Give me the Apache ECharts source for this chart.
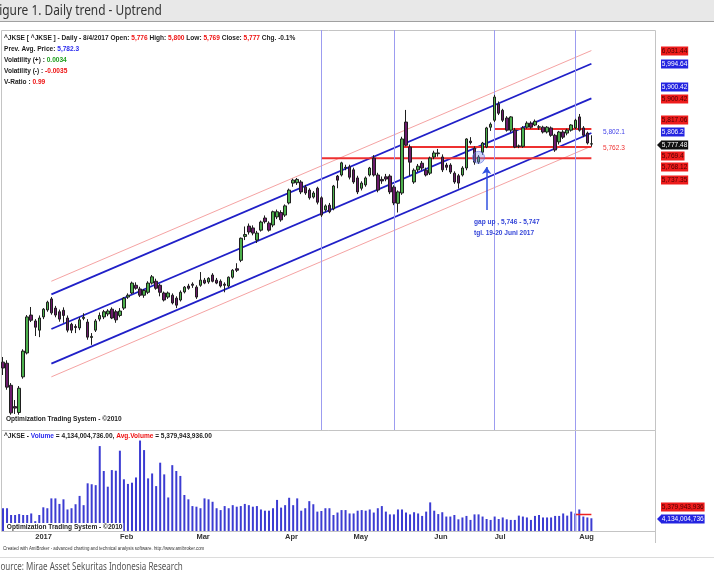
<!DOCTYPE html>
<html>
<head>
<meta charset="utf-8">
<script src="https://cdn.jsdelivr.net/npm/echarts@6/dist/echarts.min.js"></script>
<style>
  html, body { margin: 0; padding: 0; background: #fff; }
  #main { width: 714px; height: 581px; }
</style>
</head>
<body>
<div id="main"></div>
<script>
// trading days per month (IDX calendar)
const dec16 = [20, 21, 22, 23, 27, 28, 29, 30];
const jan17 = [3, 4, 5, 6, 9, 10, 11, 12, 13, 16, 17, 18, 19, 20, 23, 24, 25, 26, 27, 30, 31];
const feb17 = [1, 2, 3, 6, 7, 8, 9, 10, 13, 14, 16, 17, 20, 21, 22, 23, 24, 27, 28];
const mar17 = [1, 2, 3, 6, 7, 8, 9, 10, 13, 14, 15, 16, 17, 20, 21, 22, 23, 24, 27, 29, 30, 31];
const apr17 = [3, 4, 5, 6, 7, 10, 11, 12, 13, 17, 18, 20, 21, 25, 26, 27, 28];
const may17 = [2, 3, 4, 5, 8, 9, 10, 12, 15, 16, 17, 18, 19, 22, 23, 24, 26, 29, 30, 31];
const jun17 = [2, 5, 6, 7, 8, 9, 12, 13, 14, 15, 16, 19, 20, 21, 22];
const jul17 = [3, 4, 5, 6, 7, 10, 11, 12, 13, 14, 17, 18, 19, 20, 21, 24, 25, 26, 27, 28, 31];
const aug17 = [1, 2, 3, 4];

const monthLabels = { '01': '2017', '02': 'Feb', '03': 'Mar', '04': 'Apr', '05': 'May', '06': 'Jun', '07': 'Jul', '08': 'Aug' };

// ^JKSE daily prices
const openP = [
  5183, 5180, 5120, 5062, 5046, 5143, 5208, 5311, 5295, 5270,
  5306, 5325, 5355, 5330, 5320, 5324, 5303, 5286, 5280, 5276,
  5302, 5292, 5250, 5270, 5300, 5306, 5314, 5327, 5320, 5310,
  5330, 5360, 5371, 5392, 5382, 5365, 5373, 5398, 5403, 5392,
  5371, 5360, 5365, 5357, 5352, 5374, 5390, 5395, 5387, 5392,
  5406, 5401, 5420, 5406, 5403, 5395, 5390, 5414, 5437, 5460,
  5525, 5553, 5548, 5515, 5542, 5575, 5561, 5556, 5578, 5590,
  5583, 5616, 5670, 5671, 5673, 5659, 5651, 5632, 5656, 5630,
  5597, 5610, 5600, 5689, 5692, 5711, 5714, 5706, 5684, 5656,
  5665, 5692, 5738, 5692, 5680, 5687, 5689, 5659, 5615, 5643,
  5836, 5768, 5673, 5706, 5724, 5705, 5697, 5741, 5750, 5741,
  5719, 5719, 5697, 5690, 5692, 5711, 5784, 5765, 5727, 5754,
  5768, 5822, 5841, 5885, 5868, 5847, 5814, 5814, 5770, 5770,
  5822, 5833, 5828, 5822, 5822, 5809, 5820, 5800, 5782, 5809,
  5806, 5814, 5820, 5850, 5820, 5806, 5776
];
const highP = [
  5197, 5188, 5126, 5080, 5118, 5218, 5311, 5333, 5300, 5310,
  5330, 5350, 5360, 5336, 5326, 5332, 5310, 5290, 5286, 5305,
  5316, 5300, 5262, 5300, 5318, 5325, 5327, 5332, 5325, 5330,
  5360, 5370, 5402, 5400, 5388, 5382, 5403, 5420, 5410, 5396,
  5375, 5375, 5370, 5362, 5378, 5390, 5396, 5400, 5392, 5428,
  5412, 5414, 5425, 5412, 5408, 5400, 5416, 5436, 5452, 5522,
  5552, 5560, 5555, 5540, 5568, 5582, 5566, 5595, 5598, 5596,
  5612, 5655, 5682, 5684, 5678, 5665, 5656, 5648, 5660, 5634,
  5612, 5616, 5665, 5692, 5728, 5720, 5720, 5712, 5690, 5675,
  5688, 5714, 5746, 5698, 5688, 5695, 5694, 5664, 5650, 5796,
  5869, 5775, 5710, 5722, 5730, 5712, 5742, 5758, 5763, 5748,
  5725, 5724, 5702, 5695, 5716, 5792, 5795, 5770, 5746, 5782,
  5823, 5835, 5910, 5892, 5872, 5852, 5852, 5820, 5775, 5825,
  5838, 5838, 5843, 5828, 5826, 5825, 5824, 5804, 5812, 5814,
  5818, 5830, 5845, 5858, 5825, 5810, 5800
];
const lowP = [
  5148, 5108, 5040, 5042, 5040, 5138, 5204, 5292, 5254, 5251,
  5300, 5320, 5312, 5305, 5293, 5290, 5264, 5262, 5262, 5270,
  5297, 5244, 5230, 5265, 5294, 5300, 5308, 5300, 5290, 5305,
  5325, 5355, 5368, 5380, 5360, 5358, 5368, 5394, 5380, 5362,
  5348, 5355, 5340, 5330, 5348, 5370, 5380, 5385, 5355, 5388,
  5395, 5396, 5400, 5395, 5386, 5373, 5386, 5410, 5428, 5455,
  5515, 5530, 5528, 5507, 5538, 5560, 5538, 5550, 5572, 5565,
  5578, 5612, 5660, 5665, 5640, 5638, 5625, 5628, 5612, 5578,
  5592, 5588, 5596, 5656, 5688, 5705, 5680, 5668, 5640, 5650,
  5660, 5688, 5688, 5645, 5668, 5675, 5640, 5610, 5590, 5638,
  5770, 5690, 5668, 5700, 5705, 5688, 5692, 5735, 5742, 5700,
  5705, 5695, 5668, 5655, 5688, 5705, 5775, 5720, 5722, 5747,
  5765, 5812, 5836, 5855, 5836, 5810, 5808, 5765, 5765, 5766,
  5818, 5818, 5825, 5815, 5805, 5805, 5796, 5755, 5775, 5790,
  5800, 5810, 5816, 5810, 5795, 5775, 5769
];
const closeP = [
  5167, 5115, 5045, 5058, 5112, 5213, 5306, 5297, 5278, 5303,
  5327, 5346, 5317, 5311, 5300, 5310, 5270, 5270, 5277, 5298,
  5305, 5251, 5253, 5295, 5310, 5320, 5322, 5303, 5298, 5322,
  5357, 5365, 5398, 5384, 5365, 5378, 5398, 5415, 5384, 5373,
  5352, 5371, 5344, 5338, 5373, 5387, 5384, 5392, 5360, 5406,
  5398, 5411, 5403, 5398, 5390, 5392, 5414, 5433, 5433, 5520,
  5530, 5537, 5534, 5534, 5564, 5565, 5542, 5592, 5592, 5570,
  5608, 5651, 5678, 5680, 5646, 5643, 5630, 5643, 5618, 5583,
  5608, 5592, 5662, 5678, 5725, 5713, 5686, 5673, 5646, 5670,
  5684, 5711, 5692, 5651, 5676, 5681, 5646, 5616, 5646, 5790,
  5773, 5727, 5705, 5716, 5711, 5692, 5738, 5752, 5752, 5706,
  5713, 5700, 5673, 5670, 5711, 5790, 5780, 5727, 5741, 5779,
  5820, 5830, 5904, 5860, 5841, 5814, 5850, 5768, 5771, 5820,
  5833, 5822, 5838, 5823, 5809, 5822, 5800, 5760, 5809, 5795,
  5814, 5828, 5841, 5814, 5800, 5779, 5777
];
// volume, billions of shares
const volumeB = [
  7.4, 7.4, 5.2, 5.2, 5.5, 5.2, 5.2, 5.7, 3.2, 5.2,
  7.7, 7.4, 10.6, 10.6, 8.8, 10.3, 7.0, 7.4, 8.7, 11.4,
  8.4, 15.5, 15.2, 14.9, 27.6, 19.5, 14.4, 19.8, 19.6, 26.1,
  16.8, 15.3, 15.7, 17.4, 29.4, 26.3, 17.1, 18.7, 14.6, 22.2,
  18.4, 10.9, 21.4, 19.5, 17.9, 11.7, 10.3, 8.1, 7.9, 7.4,
  10.6, 10.3, 9.5, 7.4, 6.8, 8.1, 7.4, 8.4, 7.9, 8.1,
  8.8, 8.4, 7.9, 8.1, 7.0, 6.6, 6.6, 7.4, 10.1, 7.6,
  8.4, 10.8, 8.4, 10.6, 6.6, 7.4, 9.7, 8.7, 6.3, 6.5,
  7.4, 7.4, 5.2, 6.0, 6.8, 6.8, 5.7, 5.7, 6.6, 6.8,
  6.6, 7.0, 6.0, 7.4, 8.1, 6.3, 5.4, 5.4, 7.0, 7.0,
  6.0, 5.4, 6.1, 5.7, 4.9, 6.3, 9.3, 6.6, 5.5, 6.1,
  4.7, 4.7, 5.2, 3.8, 4.4, 4.9, 3.6, 5.4, 5.4, 4.7,
  3.9, 3.6, 4.7, 3.9, 4.4, 3.8, 3.6, 3.6, 5.0, 4.7,
  4.4, 3.6, 4.9, 5.2, 4.4, 4.4, 4.4, 4.9, 4.9, 5.7,
  5.0, 6.3, 5.7, 7.0, 4.7, 4.4, 4.134
];
const avgVolumeB = 5.379943936;

// regression channel (bar index, middle value at each end)
const chanIdx = [12, 146];
const chanMid = [5273, 5900.42];
const chanInner = 94.22;
const chanOuter = 130.02;

// horizontal support / resistance levels
const levelValues = [5817.06, 5768.12, 5737.35];
const levelFrom = [122, 99, 79];

// vertical marker bars
const markBars = [79, 97, 122, 142];
// gap-up marker
const gapBar = 118, gapPrice = 5740;
const gapArrow = [120, 5597, 5714];

// right-hand value tags
const priceTags = ['6,031.44', '5,994.64', '5,900.42', '5,900.42', '5,817.06', '5,806.2', '5,777.48', '5,769.4', '5,768.12', '5,737.35'];
const priceTagKind = ['r', 'b', 'b', 'r', 'r', 'b', 'k', 'r', 'r', 'r'];

const pad = d => (d < 10 ? '0' : '') + d;
const dates = [];
[['2016-12', dec16], ['2017-01', jan17], ['2017-02', feb17], ['2017-03', mar17], ['2017-04', apr17],
 ['2017-05', may17], ['2017-06', jun17], ['2017-07', jul17], ['2017-08', aug17]]
  .forEach(([m, days]) => days.forEach(d => dates.push(m + '-' + pad(d))));
const monthStart = new Set();
dates.forEach((d, i) => { if (i > 0 && d.slice(5, 7) !== dates[i - 1].slice(5, 7)) monthStart.add(i); });

const candles = dates.map((d, i) => [openP[i], closeP[i], lowP[i], highP[i]]);
const last = dates.length - 1;

// Arial-metric font squeezed to look like Arial Narrow
const FN = "'Liberation Sans', Arial, sans-serif";
const NARROW = 0.82;
const fmt = v => v.toLocaleString('en-US');

function seg(points, color, width) {
  return {
    type: 'line', xAxisIndex: 0, yAxisIndex: 0, data: points, showSymbol: false,
    symbol: 'none', silent: true, z: 3,
    lineStyle: { color: color, width: width }
  };
}

const series = [];
// channel
[[-chanOuter, '#f5a3a3', 1], [-chanInner, '#2020c8', 1.8], [0, '#2020c8', 1.8],
 [chanInner, '#2020c8', 1.8], [chanOuter, '#f5a3a3', 1]].forEach(([off, c, w]) => {
  series.push(seg([[chanIdx[0], chanMid[0] + off], [chanIdx[1], chanMid[1] + off]], c, w));
});
// levels
levelValues.forEach((v, k) => series.push(seg([[levelFrom[k], v], [last, v]], '#ee3030', 2)));

series.push({
  type: 'candlestick', xAxisIndex: 0, yAxisIndex: 0, data: candles, barWidth: 3, z: 5,
  itemStyle: { color: '#4cb04c', color0: '#6c1a6c', borderColor: '#1e1e1e', borderColor0: '#1e1e1e', borderWidth: 1 },
  markLine: {
    silent: true, symbol: 'none', label: { show: false }, animation: false,
    lineStyle: { color: '#9c9cf0', width: 1, type: 'solid' },
    data: markBars.map(i => ({ xAxis: dates[i] }))
  }
});
series.push({
  type: 'scatter', xAxisIndex: 0, yAxisIndex: 0, data: [[gapBar, gapPrice]], symbolSize: 12, z: 6,
  itemStyle: { color: 'rgba(120,140,235,0.45)', borderColor: 'rgba(90,110,225,0.8)', borderWidth: 1 },
  markLine: {
    silent: true, symbol: ['none', 'arrow'], symbolSize: 7, label: { show: false }, animation: false,
    lineStyle: { color: '#3050e0', width: 1.5, type: 'solid' },
    data: [[{ coord: [gapArrow[0], gapArrow[1]] }, { coord: [gapArrow[0], gapArrow[2]] }]]
  }
});
series.push({
  type: 'bar', xAxisIndex: 1, yAxisIndex: 1, data: volumeB, barWidth: 2,
  itemStyle: { color: '#3c3cd2' },
  markLine: {
    silent: true, symbol: 'none', label: { show: false }, animation: false,
    lineStyle: { color: '#9c9cf0', width: 1, type: 'solid' },
    data: [{ xAxis: dates[markBars[3]] }]
  }
});
series.push({
  type: 'line', xAxisIndex: 1, yAxisIndex: 1, showSymbol: false, symbol: 'none', silent: true,
  data: [[markBars[3], avgVolumeB], [last, avgVolumeB]], lineStyle: { color: '#ee2020', width: 1.5 }
});

// ---- graphic text and frames
const g = [];
function txt(x, y, text, fill, font, sx, extra) {
  g.push({ type: 'text', x: x, y: y, scaleX: sx, z: 10,
    style: Object.assign({ text: text, fill: fill, font: font, verticalAlign: 'middle' }, extra || {}) });
}
g.push({ type: 'rect', shape: { x: 0, y: 0, width: 714, height: 21 }, style: { fill: '#e8e8e8' }, silent: true });
g.push({ type: 'line', shape: { x1: 0, y1: 21.5, x2: 714, y2: 21.5 }, style: { stroke: '#a0a0a0', lineWidth: 1 } });
txt(-7, 11, 'Figure 1. Daily trend - Uptrend', '#333', "14px 'Noto Sans', sans-serif", 0.85);
g.push({ type: 'rect', shape: { x: 1.5, y: 30.5, width: 654, height: 400 }, style: { fill: 'none', stroke: '#c4c4c4', lineWidth: 1 } });
g.push({ type: 'rect', shape: { x: 1.5, y: 430.5, width: 654, height: 101 }, style: { fill: 'none', stroke: '#c4c4c4', lineWidth: 1 } });
g.push({ type: 'line', shape: { x1: 655.5, y1: 531, x2: 655.5, y2: 543 }, style: { stroke: '#c4c4c4', lineWidth: 1 } });
g.push({ type: 'line', shape: { x1: 0, y1: 557.5, x2: 714, y2: 557.5 }, style: { stroke: '#dcdcdc', lineWidth: 1 } });
txt(-4, 567, 'Source: Mirae Asset Sekuritas Indonesia Research', '#555', "11px 'Noto Sans', sans-serif", 0.73);
txt(3, 548, 'Created with AmiBroker - advanced charting and technical analysis software. http://www.amibroker.com', '#333', '5.5px ' + FN, 0.8);

const st = (c) => ({ fill: c, fontSize: 8, fontWeight: 'bold', fontFamily: FN });
const rich = { k: st('#1c1c1c'), r: st('#ee1111'), b: st('#2b2bee'), g: st('#1f9f1f') };
const infoLines = [
  '{k|^JKSE [ ^JKSE ] - Daily - 8/4/2017 Open: }{r|' + fmt(openP[last]) + '}{k| High: }{r|' + fmt(highP[last]) +
    '}{k| Low: }{r|' + fmt(lowP[last]) + '}{k| Close: }{r|' + fmt(closeP[last]) + '}{k| Chg. -0.1%}',
  '{k|Prev. Avg. Price: }{b|5,782.3}',
  '{k|Volatility (+) : }{g|0.0034}',
  '{k|Volatility (-) : }{r|-0.0035}',
  '{k|V-Ratio : }{r|0.99}'
];
infoLines.forEach((t, i) => txt(4, 38 + i * 11, t, null, null, NARROW, { rich: rich }));

txt(6, 419, 'Optimization Trading System - ©2010', '#222', 'bold 8px ' + FN, NARROW);
txt(6, 527, 'Optimization Trading System - ©2010', '#222', 'bold 8px ' + FN, NARROW, { backgroundColor: '#fff', padding: [0, 1] });
txt(4, 436, '{k|^JKSE - }{b|Volume}{k| = 4,134,004,736.00, }{r|Avg.Volume}{k| = 5,379,943,936.00}', null, null, NARROW, { rich: rich });

txt(474, 222, 'gap up , 5,746 - 5,747', '#3344d8', 'bold 8px ' + FN, NARROW);
txt(474, 233, 'tgl. 19-20 Juni 2017', '#3344d8', 'bold 8px ' + FN, NARROW);
txt(603, 132, '5,802.1', '#4040e8', '8px ' + FN, NARROW);
txt(603, 148, '5,762.3', '#ee3030', '8px ' + FN, NARROW);

const tagStyle = { r: ['#ee1c1c', '#4a0000'], b: ['#2424e0', '#ffffff'], k: ['#111111', '#ffffff'] };
const tagY = [51, 64, 87, 99, 120, 132, 145, 156, 167, 180];
function tag(text, kind, y, arrow) {
  const [bg, fg] = tagStyle[kind];
  if (arrow) g.push({ type: 'polygon', z: 10, shape: { points: [[657, y], [661, y - 4], [661, y + 4]] }, style: { fill: bg } });
  txt(661, y, text, fg, '8px ' + FN, NARROW, { backgroundColor: bg, padding: [1, 1, 0, 1] });
}
priceTags.forEach((t, i) => tag(t, priceTagKind[i], tagY[i], priceTagKind[i] === 'k'));
tag('5,379,943,936', 'r', 507, false);
tag('4,134,004,736', 'b', 519, true);

const chart = echarts.init(document.getElementById('main'), null, { renderer: 'canvas' });
chart.setOption({
  animation: false,
  backgroundColor: '#ffffff',
  grid: [
    { left: 1, top: 30, width: 592.4, height: 400, outerBoundsMode: 'none' },
    { left: 1, top: 431, width: 592.4, height: 100, outerBoundsMode: 'none' }
  ],
  xAxis: [
    { type: 'category', gridIndex: 0, data: dates, boundaryGap: true, axisLine: { show: false }, axisTick: { show: false }, axisLabel: { show: false }, splitLine: { show: false } },
    { type: 'category', gridIndex: 1, data: dates, boundaryGap: true, axisLine: { show: false }, axisTick: { show: false }, splitLine: { show: false },
      axisLabel: {
        interval: (i) => monthStart.has(i),
        formatter: (v) => monthLabels[v.slice(5, 7)],
        align: 'left', margin: 2, color: '#333', fontSize: 7.5, fontWeight: 'bold', fontFamily: FN
      } }
  ],
  yAxis: [
    { type: 'value', gridIndex: 0, min: 4998.4, max: 6086.4, show: false },
    { type: 'value', gridIndex: 1, min: 0, max: 32.5, show: false }
  ],
  series: series,
  graphic: g
});
</script>
</body>
</html>
